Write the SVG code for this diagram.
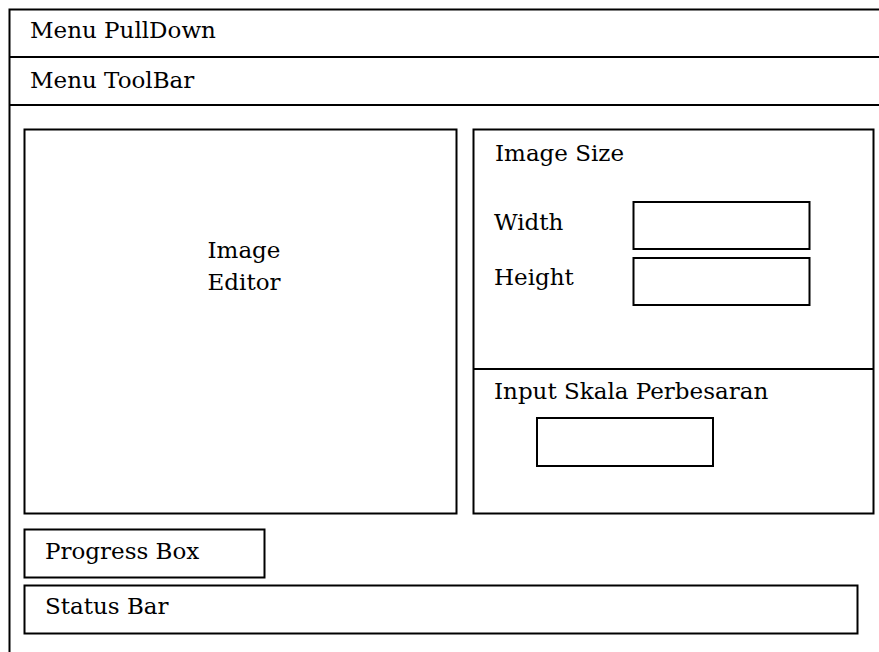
<svg xmlns="http://www.w3.org/2000/svg" width="879" height="652" viewBox="0 0 879 652">
<style>
.b{fill:none;stroke:#000;stroke-width:2}
.t{font-family:"DejaVu Serif","Liberation Serif",serif;font-size:23px;fill:#000}
</style>
<rect width="879" height="652" fill="#fff"/>
<g id="window">
<path class="b" d="M880,9.5 H9.5 V653"/>
</g>
<g id="menu-pulldown">
<line class="b" x1="9" y1="57" x2="880" y2="57"/>
<text class="t" x="30" y="38">Menu PullDown</text>
</g>
<g id="menu-toolbar">
<line class="b" x1="9" y1="105" x2="880" y2="105"/>
<text class="t" x="30" y="88">Menu ToolBar</text>
</g>
<g id="image-editor">
<rect class="b" x="24.5" y="129.5" width="432" height="384"/>
<text class="t" x="244" y="258" text-anchor="middle">Image</text>
<text class="t" x="244" y="290" text-anchor="middle">Editor</text>
</g>
<g id="image-size">
<rect class="b" x="473.5" y="129.5" width="400" height="384"/>
<line class="b" x1="473" y1="369" x2="874" y2="369"/>
<text class="t" x="495" y="161">Image Size</text>
</g>
<g id="width">
<text class="t" x="494" y="230">Width</text>
<rect class="b" x="633.5" y="202" width="176" height="47"/>
</g>
<g id="height">
<text class="t" x="494" y="285">Height</text>
<rect class="b" x="633.5" y="258" width="176" height="47"/>
</g>
<g id="input-skala">
<text class="t" x="494" y="399">Input Skala Perbesaran</text>
<rect class="b" x="537" y="418" width="176" height="48"/>
</g>
<g id="progress-box">
<rect class="b" x="24.5" y="529.5" width="240" height="48"/>
<text class="t" x="45" y="559">Progress Box</text>
</g>
<g id="status-bar">
<rect class="b" x="24.5" y="585.5" width="833" height="48"/>
<text class="t" x="45" y="614">Status Bar</text>
</g>
<g id="connectors"/>
</svg>
